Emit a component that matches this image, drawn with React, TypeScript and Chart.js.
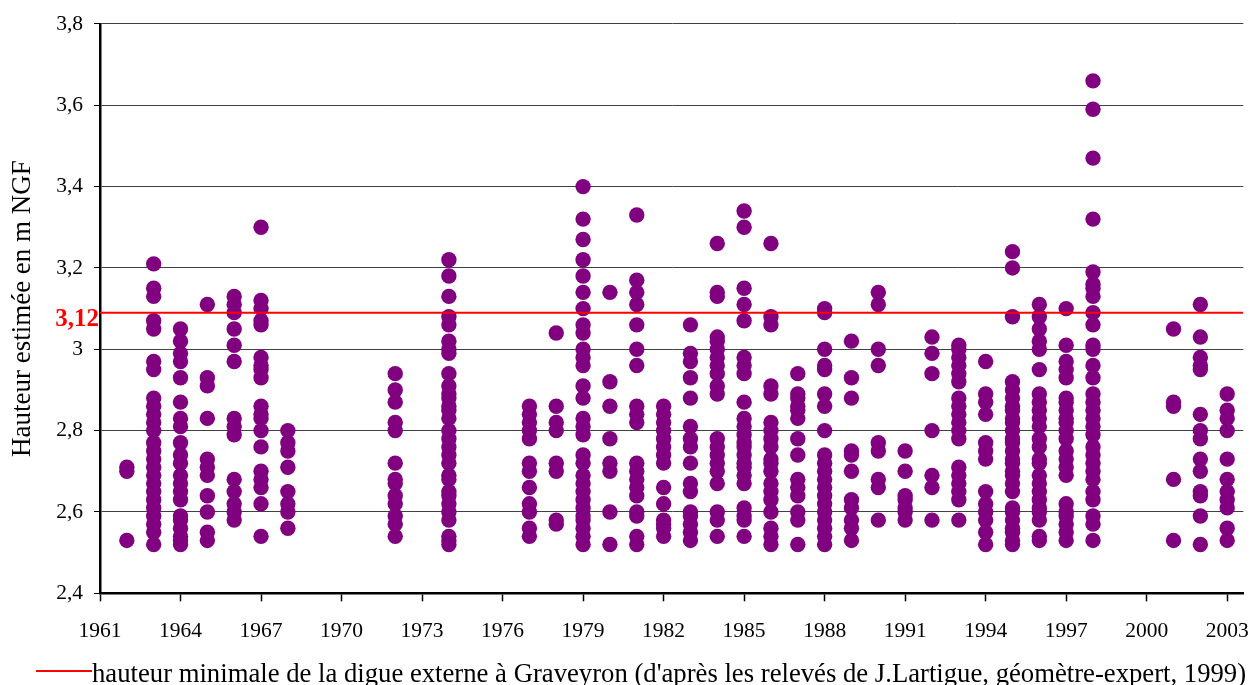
import React, { useEffect, useRef } from 'react';
import { Chart, registerables } from 'chart.js';

Chart.register(...registerables);

// ---- axes / labels ----
const xTicks = [1961, 1964, 1967, 1970, 1973, 1976, 1979, 1982, 1985, 1988, 1991, 1994, 1997, 2000, 2003];
const yTicks = [2.4, 2.6, 2.8, 3.0, 3.2, 3.4, 3.6, 3.8];
const xMin = 1961;
const xMax = 2003.6;
const yMin = 2.4;
const yMax = 3.8;
const yTitle = 'Hauteur estimée en m NGF';
const thresholdValue = 3.09;
const thresholdLabel = '3,12';
const legendText = "hauteur minimale de la digue externe à Graveyron (d'après les relevés de J.Lartigue, géomètre-expert, 1999)";

// ---- data: estimated heights per year ----
const h1962 = [2.71, 2.70, 2.53];
const h1963 = [3.21, 3.15, 3.13, 3.07, 3.05, 2.97, 2.95, 2.88, 2.86, 2.84, 2.82, 2.80, 2.77, 2.75, 2.73, 2.71, 2.69, 2.67, 2.65, 2.63, 2.61, 2.59, 2.57, 2.55, 2.52];
const h1964 = [3.05, 3.02, 2.99, 2.97, 2.93, 2.87, 2.83, 2.81, 2.77, 2.74, 2.72, 2.69, 2.67, 2.65, 2.63, 2.59, 2.58, 2.56, 2.54, 2.53, 2.52];
const h1965 = [3.11, 2.93, 2.91, 2.83, 2.73, 2.71, 2.69, 2.64, 2.60, 2.55, 2.53];
const h1966 = [3.13, 3.11, 3.09, 3.05, 3.01, 2.97, 2.83, 2.81, 2.79, 2.68, 2.65, 2.62, 2.60, 2.58];
const h1967 = [3.30, 3.12, 3.10, 3.07, 3.06, 2.98, 2.96, 2.95, 2.93, 2.86, 2.84, 2.83, 2.80, 2.76, 2.70, 2.68, 2.66, 2.62, 2.54];
const h1968 = [2.80, 2.77, 2.75, 2.71, 2.65, 2.62, 2.60, 2.56];
const h1972 = [2.94, 2.90, 2.87, 2.82, 2.80, 2.72, 2.68, 2.67, 2.64, 2.62, 2.59, 2.57, 2.54];
const h1974 = [3.22, 3.18, 3.13, 3.08, 3.06, 3.02, 3.00, 2.99, 2.94, 2.91, 2.89, 2.88, 2.86, 2.85, 2.83, 2.80, 2.78, 2.76, 2.74, 2.72, 2.69, 2.68, 2.65, 2.64, 2.62, 2.60, 2.58, 2.54, 2.53, 2.52];
const h1977 = [2.86, 2.84, 2.82, 2.80, 2.78, 2.72, 2.70, 2.66, 2.62, 2.60, 2.56, 2.54];
const h1978 = [3.04, 2.86, 2.82, 2.80, 2.72, 2.70, 2.58, 2.57];
const h1979 = [3.40, 3.32, 3.27, 3.22, 3.18, 3.14, 3.10, 3.06, 3.04, 3.00, 2.98, 2.96, 2.91, 2.88, 2.83, 2.81, 2.79, 2.74, 2.72, 2.69, 2.67, 2.65, 2.63, 2.61, 2.59, 2.58, 2.56, 2.54, 2.52];
const h1980 = [3.14, 2.92, 2.86, 2.78, 2.72, 2.70, 2.60, 2.52];
const h1981 = [3.33, 3.17, 3.14, 3.11, 3.06, 3.00, 2.96, 2.86, 2.84, 2.82, 2.72, 2.70, 2.68, 2.66, 2.64, 2.60, 2.59, 2.54, 2.52];
const h1982 = [2.86, 2.84, 2.82, 2.80, 2.78, 2.76, 2.74, 2.72, 2.66, 2.62, 2.58, 2.57, 2.56, 2.54];
const h1983 = [3.06, 2.99, 2.97, 2.93, 2.88, 2.81, 2.78, 2.76, 2.72, 2.67, 2.65, 2.60, 2.59, 2.57, 2.55, 2.53];
const h1984 = [3.26, 3.14, 3.13, 3.03, 3.02, 3.00, 2.98, 2.96, 2.94, 2.91, 2.89, 2.78, 2.76, 2.74, 2.72, 2.70, 2.67, 2.60, 2.58, 2.54];
const h1985 = [3.34, 3.30, 3.15, 3.11, 3.07, 2.98, 2.96, 2.94, 2.87, 2.83, 2.81, 2.79, 2.77, 2.76, 2.74, 2.72, 2.71, 2.69, 2.67, 2.61, 2.59, 2.58, 2.54];
const h1986 = [3.26, 3.08, 3.06, 2.91, 2.89, 2.82, 2.80, 2.78, 2.76, 2.73, 2.72, 2.70, 2.67, 2.65, 2.63, 2.60, 2.56, 2.54, 2.52];
const h1987 = [2.94, 2.89, 2.88, 2.86, 2.85, 2.83, 2.78, 2.74, 2.68, 2.66, 2.64, 2.60, 2.58, 2.52];
const h1988 = [3.10, 3.09, 3.00, 2.96, 2.95, 2.89, 2.86, 2.80, 2.74, 2.72, 2.70, 2.68, 2.66, 2.64, 2.62, 2.60, 2.58, 2.56, 2.54, 2.52];
const h1989 = [3.02, 2.93, 2.88, 2.75, 2.74, 2.70, 2.63, 2.61, 2.58, 2.56, 2.53];
const h1990 = [3.14, 3.11, 3.00, 2.96, 2.77, 2.75, 2.68, 2.66, 2.58];
const h1991 = [2.75, 2.70, 2.64, 2.63, 2.61, 2.60, 2.58];
const h1992 = [3.03, 2.99, 2.94, 2.80, 2.69, 2.66, 2.58];
const h1993 = [3.01, 3.00, 2.98, 2.96, 2.94, 2.92, 2.88, 2.86, 2.84, 2.82, 2.80, 2.78, 2.71, 2.69, 2.67, 2.65, 2.63, 2.58];
const h1994 = [2.97, 2.89, 2.87, 2.84, 2.77, 2.75, 2.73, 2.65, 2.62, 2.60, 2.58, 2.55, 2.52];
const h1995 = [3.24, 3.20, 3.08, 2.92, 2.90, 2.88, 2.86, 2.85, 2.83, 2.82, 2.80, 2.78, 2.77, 2.75, 2.73, 2.72, 2.70, 2.69, 2.67, 2.65, 2.61, 2.60, 2.58, 2.56, 2.55, 2.53, 2.52];
const h1996 = [3.11, 3.08, 3.05, 3.02, 3.00, 2.95, 2.89, 2.87, 2.85, 2.83, 2.81, 2.78, 2.76, 2.73, 2.72, 2.69, 2.67, 2.65, 2.63, 2.61, 2.60, 2.58, 2.54, 2.53];
const h1997 = [3.10, 3.01, 2.97, 2.95, 2.93, 2.88, 2.87, 2.85, 2.83, 2.82, 2.80, 2.78, 2.75, 2.73, 2.71, 2.69, 2.62, 2.60, 2.59, 2.57, 2.55, 2.53];
const h1998 = [3.66, 3.59, 3.47, 3.32, 3.19, 3.16, 3.15, 3.13, 3.09, 3.06, 3.01, 3.00, 2.96, 2.93, 2.89, 2.87, 2.85, 2.83, 2.81, 2.79, 2.76, 2.74, 2.72, 2.70, 2.68, 2.65, 2.63, 2.59, 2.57, 2.53];
const h2001 = [3.05, 2.87, 2.86, 2.68, 2.53];
const h2002 = [3.11, 3.03, 2.98, 2.96, 2.95, 2.84, 2.80, 2.78, 2.73, 2.70, 2.65, 2.64, 2.59, 2.52];
const h2003 = [2.89, 2.85, 2.83, 2.80, 2.73, 2.68, 2.65, 2.63, 2.61, 2.56, 2.53];

const series: [number, number[]][] = [
  [1962, h1962], [1963, h1963], [1964, h1964], [1965, h1965], [1966, h1966], [1967, h1967], [1968, h1968],
  [1972, h1972], [1974, h1974], [1977, h1977], [1978, h1978], [1979, h1979], [1980, h1980], [1981, h1981],
  [1982, h1982], [1983, h1983], [1984, h1984], [1985, h1985], [1986, h1986], [1987, h1987], [1988, h1988],
  [1989, h1989], [1990, h1990], [1991, h1991], [1992, h1992], [1993, h1993], [1994, h1994], [1995, h1995],
  [1996, h1996], [1997, h1997], [1998, h1998], [2001, h2001], [2002, h2002], [2003, h2003],
];

const FONT = "'Liberation Serif', 'Times New Roman', serif";

const formatComma = (v: number) => String(Number(v.toFixed(1))).replace('.', ',');

const overlayPlugin = {
  id: 'overlayText',
  afterDraw(chart: any) {
    const ctx = chart.ctx as CanvasRenderingContext2D;
    const yPix = chart.scales.y.getPixelForValue(thresholdValue);
    const left = chart.chartArea.left;
    ctx.save();
    // threshold label
    ctx.fillStyle = '#FF0000';
    ctx.font = `bold 25px ${FONT}`;
    ctx.textAlign = 'right';
    ctx.textBaseline = 'middle';
    ctx.fillText(thresholdLabel, left - 1, yPix + 7);
    // legend
    ctx.strokeStyle = '#FF0000';
    ctx.lineWidth = 2;
    ctx.beginPath();
    ctx.moveTo(36, 671);
    ctx.lineTo(92, 671);
    ctx.stroke();
    ctx.fillStyle = '#000000';
    ctx.font = `26.7px ${FONT}`;
    ctx.textAlign = 'left';
    ctx.textBaseline = 'alphabetic';
    ctx.fillText(legendText, 92, 681.5);
    ctx.restore();
  },
};

export default function App() {
  const canvasRef = useRef<HTMLCanvasElement | null>(null);

  useEffect(() => {
    if (!canvasRef.current) return;
    const points = series.flatMap(([year, vals]) => vals.map((v) => ({ x: year, y: v })));
    const chart = new Chart(canvasRef.current, {
      type: 'scatter',
      data: {
        datasets: [
          {
            label: legendText,
            data: [
              { x: xMin, y: thresholdValue },
              { x: xMax, y: thresholdValue },
            ],
            showLine: true,
            borderColor: '#FF0000',
            borderWidth: 2,
            pointRadius: 0,
            pointHoverRadius: 0,
            order: 0,
          } as any,
          {
            label: 'hauteurs',
            data: points,
            backgroundColor: '#800080',
            borderWidth: 0,
            pointRadius: 7.7,
            pointHoverRadius: 7.7,
            order: 1,
          } as any,
        ],
      },
      options: {
        animation: false,
        responsive: false,
        events: [],
        layout: { padding: { top: 21.6, right: 0, bottom: 0, left: 0 } },
        plugins: {
          legend: { display: false },
          tooltip: { enabled: false },
        },
        font: { family: FONT },
        scales: {
          x: {
            type: 'linear',
            min: xMin,
            max: xMax,
            afterBuildTicks: (s: any) => {
              s.ticks = xTicks.map((v) => ({ value: v }));
            },
            afterFit: (s: any) => {
              s.height = 91.7;
              s.paddingRight = 0;
              s.paddingLeft = 0;
            },
            ticks: {
              font: { family: FONT, size: 21.5 },
              color: '#000000',
              padding: 17,
              maxRotation: 0,
              autoSkip: false,
              callback: (v: any) => String(v),
            },
            grid: {
              drawOnChartArea: false,
              drawTicks: true,
              tickLength: 8,
              color: '#000000',
              tickWidth: 1.5,
            },
            border: { display: true, color: '#000000', width: 2.5 },
          },
          y: {
            type: 'linear',
            min: yMin,
            max: yMax,
            afterBuildTicks: (s: any) => {
              s.ticks = yTicks.map((v) => ({ value: v }));
            },
            afterFit: (s: any) => {
              s.width = 100;
            },
            ticks: {
              font: { family: FONT, size: 21.5 },
              color: '#000000',
              padding: 11,
              callback: (v: any) => formatComma(Number(v)),
            },
            grid: {
              color: '#404040',
              lineWidth: 1,
              drawTicks: true,
              tickLength: 6,
              tickColor: '#000000',
            },
            border: { display: true, color: '#000000', width: 2.5 },
            title: {
              display: true,
              text: yTitle,
              color: '#000000',
              font: { family: FONT, size: 27, lineHeight: 1 },
              padding: { top: 9, bottom: 0 },
            },
          },
        },
      } as any,
      plugins: [overlayPlugin],
    });
    return () => chart.destroy();
  }, []);

  return (
    <div style={{ position: 'fixed', left: 0, top: 0, width: 1251, height: 685, background: '#ffffff' }}>
      <canvas ref={canvasRef} width={1251} height={685} style={{ width: '1251px', height: '685px', display: 'block' }} />
    </div>
  );
}
